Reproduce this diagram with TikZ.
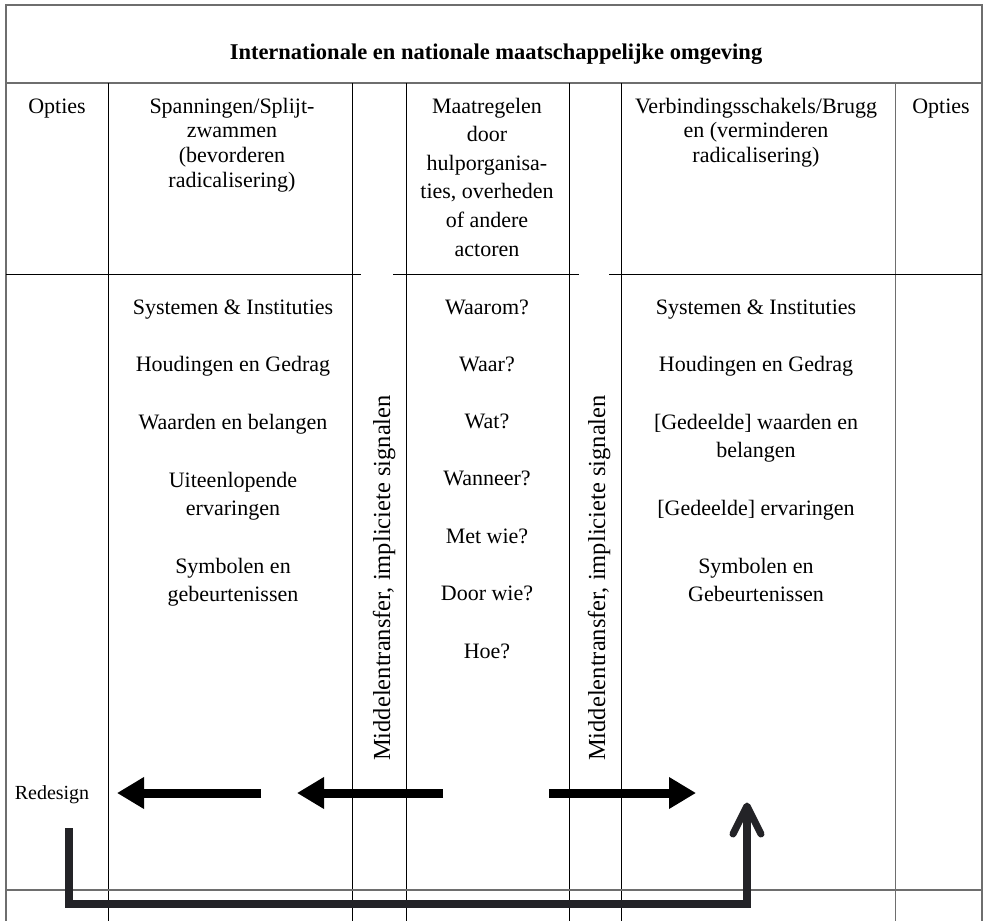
\documentclass[tikz,border=0pt]{standalone}
\usepackage{fontspec}
\setmainfont{Liberation Serif}
\usetikzlibrary{arrows.meta}
\definecolor{rulegray}{HTML}{6E6E6E}
\definecolor{loopink}{HTML}{232327}

\begin{document}
\begin{tikzpicture}[x=1pt, y=-1pt,
  framerule/.style={line width=1.3pt, rulegray},
  colrule/.style={line width=1pt, black},
  lbl/.style={inner sep=0pt, anchor=base, align=center, font=\fontsize{22}{28}\selectfont},
  hdr/.style={lbl, font=\fontsize{22}{24.7}\selectfont},
  hdrmid/.style={lbl, font=\fontsize{22}{28.6}\selectfont},
  toptitle/.style={inner sep=0pt, anchor=base, font=\fontsize{22.5}{27}\selectfont\bfseries},
  sidelbl/.style={inner sep=0pt, anchor=base, rotate=90, font=\fontsize{24.5}{28}\selectfont},
  smalllbl/.style={inner sep=0pt, anchor=base, font=\fontsize{20}{24}\selectfont},
  fatarrow/.style={line width=9pt, -{Triangle[length=27pt,width=30pt]}},
  loopline/.style={line width=8pt, loopink},
  loopbarb/.style={line width=7pt, loopink, line cap=round, line join=round}
]
\useasboundingbox (0,0) rectangle (983,921);

% outer frame and title row
\draw[framerule] (6,921) -- (6,5) -- (982,5) -- (982,921);
\draw[framerule] (6,83) -- (982,83);

% column rules
\foreach \cx in {108,352,406,569,621}
  \draw[colrule] (\cx,83) -- (\cx,921);
\draw[framerule, line width=1pt] (895,83) -- (895,921);

% header bottom rule, open above the two narrow columns
\draw[colrule] (6,274) -- (361,274);
\draw[colrule] (393,274) -- (579,274);
\draw[colrule] (609,274) -- (982,274);

% bottom rule
\draw[framerule] (6,890) -- (982,890);

% title
\node[toptitle] (title) at (496,59) {Internationale en nationale maatschappelijke omgeving};

% header row (multi-line nodes sit on the baseline of their last line)
\node[hdr] (optL) at (57,113) {Opties};
\node[hdr] (hdrL) at (232,187.1) {Spanningen/Splijt-\\zwammen\\(bevorderen\\radicalisering)};
\node[hdrmid] (hdrM) at (487,256) {Maatregelen\\door\\hulporganisa-\\ties, overheden\\of andere\\actoren};
\node[hdr] (hdrR) at (756,162.4) {Verbindingsschakels/Brugg\\en (verminderen\\radicalisering)};
\node[hdr] (optR) at (941,113) {Opties};

% left column
\node[lbl] (l1) at (233,314) {Systemen \& Instituties};
\node[lbl] (l2) at (233,371) {Houdingen en Gedrag};
\node[lbl] (l3) at (233,429) {Waarden en belangen};
\node[lbl] (l4) at (233,515) {Uiteenlopende\\ervaringen};
\node[lbl] (l5) at (233,601) {Symbolen en\\gebeurtenissen};

% middle column
\node[lbl] (m1) at (487,314) {Waarom?};
\node[lbl] (m2) at (487,371) {Waar?};
\node[lbl] (m3) at (487,428) {Wat?};
\node[lbl] (m4) at (487,485) {Wanneer?};
\node[lbl] (m5) at (487,543) {Met wie?};
\node[lbl] (m6) at (487,600) {Door wie?};
\node[lbl] (m7) at (487,658) {Hoe?};

% right column
\node[lbl] (r1) at (756,314) {Systemen \& Instituties};
\node[lbl] (r2) at (756,371) {Houdingen en Gedrag};
\node[lbl] (r3) at (756,457) {[Gedeelde] waarden en\\belangen};
\node[lbl] (r4) at (756,515) {[Gedeelde] ervaringen};
\node[lbl] (r5) at (756,601) {Symbolen en\\Gebeurtenissen};

% narrow columns
\node[sidelbl] (sideL) at (390,578) {Middelentransfer, impliciete signalen};
\node[sidelbl] (sideR) at (605,578) {Middelentransfer, impliciete signalen};

\node[smalllbl] (redesign) at (52,799) {Redesign};

% flow arrows
\coordinate (a1from) at (261,793);
\coordinate (a1to)   at (117,793);
\coordinate (a2from) at (443,793);
\coordinate (a2to)   at (297,793);
\coordinate (a3from) at (549,793);
\coordinate (a3to)   at (696,793);
\draw[fatarrow] (a1from) -- (a1to);
\draw[fatarrow] (a2from) -- (a2to);
\draw[fatarrow] (a3from) -- (a3to);

% redesign loop
\coordinate (loopstart) at (69,828);
\coordinate (loopA)     at (69,904);
\coordinate (loopB)     at (747,904);
\coordinate (looptip)   at (747,806);
\coordinate (barbL)     at (733,834);
\coordinate (barbR)     at (761,834);
\draw[loopline] (loopstart) -- (loopA) -- (loopB) -- (looptip);
\draw[loopbarb] (barbL) -- (looptip) -- (barbR);
\end{tikzpicture}
\end{document}
